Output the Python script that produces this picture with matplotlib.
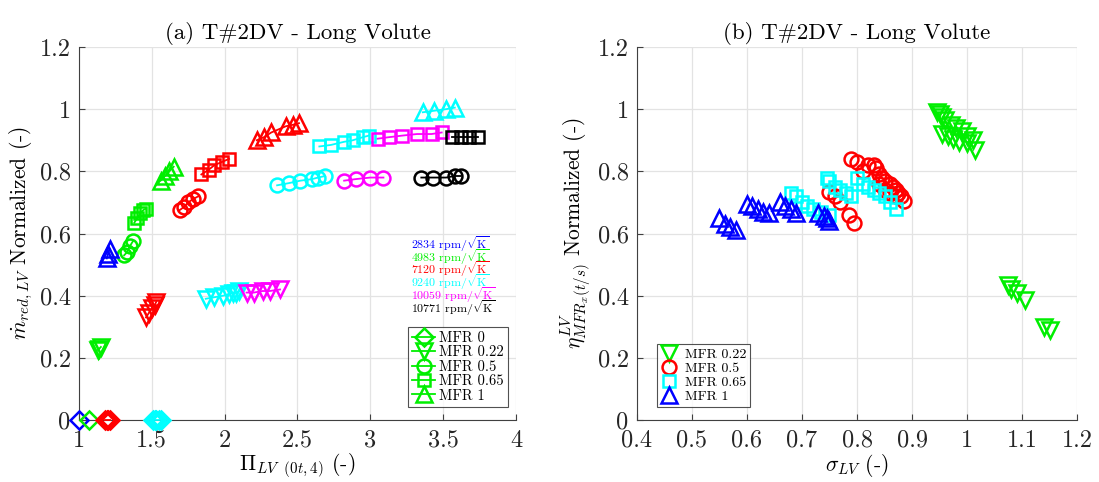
import matplotlib
matplotlib.use("Agg")
import matplotlib.pyplot as plt
from matplotlib.lines import Line2D
from matplotlib.ticker import FuncFormatter

plt.rcParams['font.family'] = 'cmr10'
plt.rcParams['mathtext.fontset'] = 'cm'
plt.rcParams['axes.unicode_minus'] = False
plt.rcParams['axes.formatter.use_mathtext'] = True

# ---- (a) reduced mass flow vs. pressure ratio ----
# MFR 0
pr_mfr0_2834 = [1.00]
m_mfr0_2834 = [0.0]
pr_mfr0_4983 = [1.07]
m_mfr0_4983 = [0.0]
pr_mfr0_7120 = [1.18, 1.19, 1.20, 1.21]
m_mfr0_7120 = [0.0, 0.0, 0.0, 0.0]
pr_mfr0_9240 = [1.51, 1.52, 1.53, 1.55, 1.56]
m_mfr0_9240 = [0.0, 0.0, 0.0, 0.0, 0.0]

# MFR 0.22
pr_mfr022_4983 = [1.13, 1.14, 1.15]
m_mfr022_4983 = [0.225, 0.23, 0.235]
pr_mfr022_7120 = [1.46, 1.48, 1.50, 1.52, 1.53]
m_mfr022_7120 = [0.33, 0.345, 0.36, 0.37, 0.38]
pr_mfr022_9240 = [1.87, 1.93, 1.99, 2.03, 2.06, 2.08, 2.10]
m_mfr022_9240 = [0.39, 0.395, 0.40, 0.405, 0.41, 0.41, 0.415]
pr_mfr022_10059 = [2.15, 2.20, 2.26, 2.31, 2.38]
m_mfr022_10059 = [0.41, 0.41, 0.415, 0.415, 0.42]

# MFR 0.5
pr_mfr05_4983 = [1.31, 1.33, 1.35, 1.37]
m_mfr05_4983 = [0.53, 0.54, 0.56, 0.575]
pr_mfr05_7120 = [1.69, 1.72, 1.75, 1.78, 1.82]
m_mfr05_7120 = [0.675, 0.685, 0.70, 0.71, 0.72]
pr_mfr05_9240 = [2.36, 2.44, 2.52, 2.60, 2.64, 2.69]
m_mfr05_9240 = [0.755, 0.762, 0.77, 0.775, 0.78, 0.785]
pr_mfr05_10059 = [2.82, 2.90, 3.00, 3.09]
m_mfr05_10059 = [0.77, 0.775, 0.78, 0.78]
pr_mfr05_10771 = [3.35, 3.43, 3.52, 3.58, 3.62]
m_mfr05_10771 = [0.78, 0.78, 0.78, 0.785, 0.785]

# MFR 0.65
pr_mfr065_4983 = [1.38, 1.40, 1.42, 1.44, 1.46]
m_mfr065_4983 = [0.635, 0.65, 0.665, 0.675, 0.68]
pr_mfr065_7120 = [1.84, 1.89, 1.93, 1.98, 2.03]
m_mfr065_7120 = [0.79, 0.805, 0.82, 0.83, 0.84]
pr_mfr065_9240 = [2.65, 2.73, 2.82, 2.88, 2.95, 2.99]
m_mfr065_9240 = [0.88, 0.885, 0.895, 0.90, 0.91, 0.915]
pr_mfr065_10059 = [3.05, 3.13, 3.22, 3.32, 3.42, 3.49]
m_mfr065_10059 = [0.905, 0.91, 0.915, 0.92, 0.92, 0.925]
pr_mfr065_10771 = [3.56, 3.62, 3.68, 3.74]
m_mfr065_10771 = [0.91, 0.91, 0.91, 0.91]

# MFR 1
pr_mfr1_2834 = [1.19, 1.20, 1.21]
m_mfr1_2834 = [0.52, 0.535, 0.55]
pr_mfr1_4983 = [1.56, 1.59, 1.62, 1.65]
m_mfr1_4983 = [0.77, 0.785, 0.80, 0.815]
pr_mfr1_7120 = [2.22, 2.27, 2.32, 2.42, 2.47, 2.51]
m_mfr1_7120 = [0.90, 0.91, 0.925, 0.945, 0.95, 0.955]
pr_mfr1_9240 = [3.36, 3.44, 3.52, 3.58]
m_mfr1_9240 = [0.99, 0.995, 1.0, 1.005]

speed_labels = ['2834', '4983', '7120', '9240', '10059', '10771']
speed_colors = ['#0000ff', '#00ee00', '#ff0000', '#00ffff', '#ff00ff', '#000000']
mfr_labels = ['MFR 0', 'MFR 0.22', 'MFR 0.5', 'MFR 0.65', 'MFR 1']
mfr_markers = ['D', 'v', 'o', 's', '^']

# ---- (b) efficiency vs. velocity ratio ----
sigma_mfr022 = [0.945, 0.95, 0.955, 0.96, 0.97, 0.98, 0.99, 1.00, 1.01,
                0.955, 0.965, 0.975, 0.985, 1.00, 1.015,
                1.075, 1.08, 1.09, 1.105, 1.14, 1.15]
eta_mfr022 = [0.99, 0.985, 0.975, 0.965, 0.95, 0.94, 0.93, 0.915, 0.90,
              0.92, 0.915, 0.905, 0.895, 0.89, 0.87,
              0.435, 0.42, 0.41, 0.385, 0.30, 0.29]
sigma_mfr05 = [0.79, 0.80, 0.82, 0.83, 0.835, 0.84, 0.845, 0.85, 0.86, 0.865,
               0.87, 0.875, 0.88, 0.885, 0.81, 0.84, 0.85, 0.86, 0.87,
               0.75, 0.76, 0.77, 0.785, 0.795]
eta_mfr05 = [0.84, 0.83, 0.82, 0.82, 0.81, 0.79, 0.78, 0.77, 0.76, 0.75,
             0.74, 0.73, 0.72, 0.705, 0.80, 0.76, 0.74, 0.73, 0.72,
             0.735, 0.72, 0.70, 0.66, 0.635]
sigma_mfr065 = [0.68, 0.69, 0.70, 0.71, 0.72, 0.735, 0.745, 0.75, 0.76, 0.77,
                0.78, 0.79, 0.80, 0.81, 0.82, 0.83, 0.84, 0.85, 0.86, 0.87, 0.75]
eta_mfr065 = [0.73, 0.72, 0.70, 0.69, 0.68, 0.67, 0.78, 0.77, 0.75, 0.74,
              0.73, 0.72, 0.78, 0.76, 0.75, 0.74, 0.73, 0.72, 0.70, 0.68, 0.66]
sigma_mfr1 = [0.55, 0.56, 0.57, 0.58, 0.60, 0.61, 0.62, 0.63, 0.64,
              0.66, 0.67, 0.68, 0.69, 0.73, 0.74, 0.745, 0.75]
eta_mfr1 = [0.65, 0.63, 0.62, 0.61, 0.695, 0.69, 0.68, 0.67, 0.665,
            0.70, 0.69, 0.68, 0.665, 0.665, 0.655, 0.65, 0.64]

right_labels = ['MFR 0.22', 'MFR 0.5', 'MFR 0.65', 'MFR 1']
right_colors = ['#00ee00', '#ff0000', '#00ffff', '#0000ff']
right_markers = ['v', 'o', 's', '^']

fig = plt.figure(figsize=(10.99, 4.82), dpi=100)
ax1 = fig.add_axes([0.0719, 0.1286, 0.3976, 0.7739])
ax2 = fig.add_axes([0.5796, 0.1286, 0.4004, 0.7739])

C = dict(zip(speed_labels, speed_colors))
MS = {'D': 9, 'v': 11, 'o': 10, 's': 8.5, '^': 11}


def series(ax, x, y, color, marker):
    ax.plot(x, y, '-', color=color, lw=1.3, marker=marker, ms=MS[marker],
            mfc='none', mec=color, mew=1.8, zorder=3, clip_on=False)


series(ax1, pr_mfr0_2834, m_mfr0_2834, C['2834'], 'D')
series(ax1, pr_mfr0_4983, m_mfr0_4983, C['4983'], 'D')
series(ax1, pr_mfr0_7120, m_mfr0_7120, C['7120'], 'D')
series(ax1, pr_mfr0_9240, m_mfr0_9240, C['9240'], 'D')

series(ax1, pr_mfr022_4983, m_mfr022_4983, C['4983'], 'v')
series(ax1, pr_mfr022_7120, m_mfr022_7120, C['7120'], 'v')
series(ax1, pr_mfr022_9240, m_mfr022_9240, C['9240'], 'v')
series(ax1, pr_mfr022_10059, m_mfr022_10059, C['10059'], 'v')

series(ax1, pr_mfr05_4983, m_mfr05_4983, C['4983'], 'o')
series(ax1, pr_mfr05_7120, m_mfr05_7120, C['7120'], 'o')
series(ax1, pr_mfr05_9240, m_mfr05_9240, C['9240'], 'o')
series(ax1, pr_mfr05_10059, m_mfr05_10059, C['10059'], 'o')
series(ax1, pr_mfr05_10771, m_mfr05_10771, C['10771'], 'o')

series(ax1, pr_mfr065_4983, m_mfr065_4983, C['4983'], 's')
series(ax1, pr_mfr065_7120, m_mfr065_7120, C['7120'], 's')
series(ax1, pr_mfr065_9240, m_mfr065_9240, C['9240'], 's')
series(ax1, pr_mfr065_10059, m_mfr065_10059, C['10059'], 's')
series(ax1, pr_mfr065_10771, m_mfr065_10771, C['10771'], 's')

series(ax1, pr_mfr1_2834, m_mfr1_2834, C['2834'], '^')
series(ax1, pr_mfr1_4983, m_mfr1_4983, C['4983'], '^')
series(ax1, pr_mfr1_7120, m_mfr1_7120, C['7120'], '^')
series(ax1, pr_mfr1_9240, m_mfr1_9240, C['9240'], '^')

# speed annotations
for i, (lab, col) in enumerate(zip(speed_labels, speed_colors)):
    ax1.text(3.28, 0.567 - i * 0.0415, lab + r' rpm/$\sqrt{\mathrm{K}}$',
             color=col, fontsize=8.6, ha='left', va='center')

handles1 = [Line2D([], [], color='#00ee00', lw=1.3, marker=m, ms=MS[m],
                   mfc='none', mew=1.8) for m in mfr_markers]
leg1 = ax1.legend(handles1, mfr_labels, loc='lower right',
                  bbox_to_anchor=(0.982, 0.035), fontsize=10.5, frameon=True,
                  fancybox=False, edgecolor='#262626', handlelength=1.6,
                  handletextpad=0.25, borderpad=0.3, labelspacing=0.05,
                  borderaxespad=0.0)
leg1.get_frame().set_linewidth(0.8)

for lab, col, mk, xs, ys in zip(right_labels, right_colors, right_markers,
                                [sigma_mfr022, sigma_mfr05, sigma_mfr065, sigma_mfr1],
                                [eta_mfr022, eta_mfr05, eta_mfr065, eta_mfr1]):
    ax2.plot(xs, ys, linestyle='none', marker=mk, ms=MS[mk], mfc='none',
             mec=col, mew=1.8, label=lab, zorder=3)

leg2 = ax2.legend(loc='lower left', bbox_to_anchor=(0.045, 0.035),
                  fontsize=10, frameon=True, fancybox=False,
                  edgecolor='#262626', handlelength=1.1, handletextpad=0.6,
                  borderpad=0.3, labelspacing=0.08, borderaxespad=0.0)
leg2.get_frame().set_linewidth(0.8)

fmt = FuncFormatter(lambda v, p: '%g' % round(v, 3))
for ax in (ax1, ax2):
    ax.set_ylim(0, 1.2)
    ax.set_yticks([0, 0.2, 0.4, 0.6, 0.8, 1.0, 1.2])
    ax.yaxis.set_major_formatter(fmt)
    ax.xaxis.set_major_formatter(fmt)
    ax.grid(True, color='#e3e3e3', lw=0.9, zorder=0)
    ax.set_axisbelow(True)
    for s in ('top', 'right'):
        ax.spines[s].set_visible(False)
    for s in ('left', 'bottom'):
        ax.spines[s].set_color('#404040')
        ax.spines[s].set_linewidth(0.8)
    ax.tick_params(direction='in', length=4, width=0.8, colors='#404040',
                   labelsize=17.5, labelcolor='#262626')
    ax.tick_params(axis='x', pad=7)
    ax.tick_params(axis='y', pad=6)

ax1.set_xlim(1, 4)
ax1.set_xticks([1, 1.5, 2, 2.5, 3, 3.5, 4])
ax2.set_xlim(0.4, 1.2)
ax2.set_xticks([0.4, 0.5, 0.6, 0.7, 0.8, 0.9, 1.0, 1.1, 1.2])

ax1.set_title('(a) T#2DV - Long Volute', fontsize=16.5, pad=6)
ax2.set_title('(b) T#2DV - Long Volute', fontsize=16.5, pad=6)
ax1.set_xlabel(r'$\Pi_{LV\ \ (0t,4)}$ (-)', fontsize=15.5, labelpad=0)
ax2.set_xlabel(r'$\sigma_{LV}$ (-)', fontsize=15.5, labelpad=0)
ax1.set_ylabel(r'$\dot{m}_{red,LV}$ Normalized (-)', fontsize=15.5, labelpad=3)
ax2.set_ylabel(r'$\eta^{LV}_{MFR_x(t/s)}$ Normalized (-)', fontsize=15.5, labelpad=3)

fig.savefig('out.png', dpi=100)
